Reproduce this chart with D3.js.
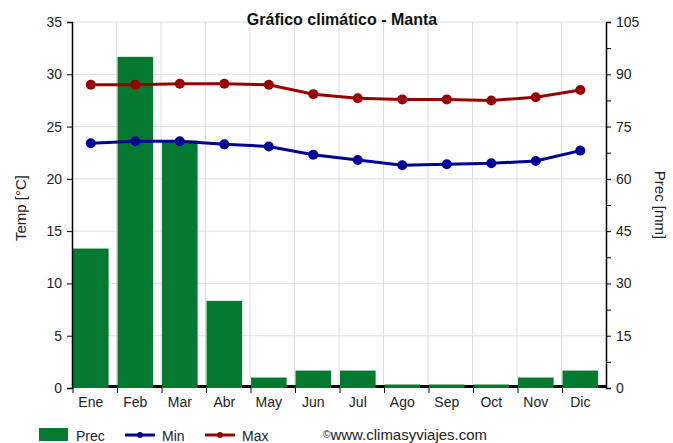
<!DOCTYPE html>
<html>
<head>
<meta charset="utf-8">
<script src="https://cdn.jsdelivr.net/npm/d3@7"></script>
<style>
  body { margin: 0; background: #fff; }
  text { font-family: "Liberation Sans", Arial, sans-serif; }
</style>
</head>
<body>
<div id="chart"></div>
<script>
// data
var months = ["Ene","Feb","Mar","Abr","May","Jun","Jul","Ago","Sep","Oct","Nov","Dic"];
var prec = [40, 95, 71, 25, 3, 5, 5, 1, 1, 1, 3, 5];
var tMin = [23.4, 23.6, 23.6, 23.3, 23.1, 22.3, 21.8, 21.3, 21.4, 21.5, 21.7, 22.7];
var tMax = [29.0, 29.0, 29.1, 29.1, 29.0, 28.1, 27.7, 27.6, 27.6, 27.5, 27.8, 28.5];
var tempTicks = [0, 5, 10, 15, 20, 25, 30, 35];

var W = 673, H = 443;
var pLeft = 72, pRight = 606, pTop = 22, pBottom = 388;

var svg = d3.select("#chart").append("svg")
  .attr("width", W).attr("height", H);

var x = d3.scaleBand().domain(months).range([pLeft, pRight]).padding(0);
var y = d3.scaleLinear().domain([0, 35]).range([pBottom, pTop]);
var yP = d3.scaleLinear().domain([0, 105]).range([pBottom, pTop]);
var barW = x.bandwidth() * 0.8;
var cx = function(m){ return x(m) + barW / 2 + 1; };

// grid
svg.append("g").selectAll("line")
  .data(tempTicks.slice(1))
  .enter().append("line")
    .attr("x1", pLeft).attr("x2", pRight)
    .attr("y1", function(d){ return y(d); })
    .attr("y2", function(d){ return y(d); })
    .attr("stroke", "#dddddd");
svg.append("g").selectAll("line")
  .data(months.slice(1))
  .enter().append("line")
    .attr("x1", function(d){ return x(d); })
    .attr("x2", function(d){ return x(d); })
    .attr("y1", pTop).attr("y2", pBottom)
    .attr("stroke", "#dddddd");

// black base strip
svg.append("rect")
  .attr("x", pLeft).attr("y", pBottom - 3)
  .attr("width", pRight - pLeft).attr("height", 3)
  .attr("fill", "#000");

// bars
svg.append("g").selectAll("rect")
  .data(prec)
  .enter().append("rect")
    .attr("x", function(d, i){ return x(months[i]) + 1; })
    .attr("y", function(d){ return yP(d); })
    .attr("width", barW)
    .attr("height", function(d){ return pBottom - yP(d); })
    .attr("fill", "#037a2f");

// lines
function drawLine(vals, color) {
  var line = d3.line()
    .x(function(d, i){ return cx(months[i]); })
    .y(function(d){ return y(d); });
  svg.append("path")
    .datum(vals)
    .attr("d", line)
    .attr("fill", "none")
    .attr("stroke", color)
    .attr("stroke-width", 3);
  svg.append("g").selectAll("circle")
    .data(vals)
    .enter().append("circle")
      .attr("cx", function(d, i){ return cx(months[i]); })
      .attr("cy", function(d){ return y(d); })
      .attr("r", 5)
      .attr("fill", color);
}
drawLine(tMax, "#990000");
drawLine(tMin, "#000099");

// axes
var axL = svg.append("g")
  .attr("transform", "translate(" + pLeft + ",0)")
  .call(d3.axisLeft(y).tickValues(tempTicks).tickSize(5).tickPadding(5));
var axR = svg.append("g")
  .attr("transform", "translate(" + pRight + ",0)")
  .call(d3.axisRight(yP).tickValues(d3.range(0, 106, 7.5)).tickSize(5).tickPadding(5)
    .tickFormat(function(d){ return d % 15 === 0 ? d : ""; }));
var axB = svg.append("g")
  .attr("transform", "translate(0," + pBottom + ")")
  .call(d3.axisBottom(x).tickSize(0).tickPadding(9));
// bottom tick marks at band edges
svg.append("g").selectAll("line")
  .data(months)
  .enter().append("line")
    .attr("x1", function(d){ return x(d) + 1; })
    .attr("x2", function(d){ return x(d) + 1; })
    .attr("y1", pBottom).attr("y2", pBottom + 5)
    .attr("stroke", "#000");
// shift month labels to bar centres
axB.selectAll(".tick").attr("transform", function(d){ return "translate(" + cx(d) + ",0)"; });

[axL, axR, axB].forEach(function(a){
  a.selectAll("text").attr("font-size", 14).attr("fill", "#222")
    .attr("font-family", "'Liberation Sans', Arial, sans-serif");
  a.selectAll("line").attr("stroke", "#000");
});
axB.select(".domain").remove();
axL.select(".domain").attr("stroke", "#000").attr("stroke-width", 1.5);
axR.select(".domain").attr("stroke", "#000").attr("stroke-width", 1.5);

// title and axis labels
svg.append("text")
  .attr("x", 342).attr("y", 25)
  .attr("text-anchor", "middle")
  .attr("font-size", 16).attr("font-weight", "bold").attr("fill", "#111")
  .text("Gráfico climático - Manta");
svg.append("text")
  .attr("transform", "translate(26,208) rotate(-90)")
  .attr("text-anchor", "middle").attr("font-size", 15).attr("fill", "#222")
  .text("Temp [°C]");
svg.append("text")
  .attr("transform", "translate(655,205) rotate(90)")
  .attr("text-anchor", "middle").attr("font-size", 15).attr("fill", "#222")
  .text("Prec [mm]");

// legend
var lg = svg.append("g").attr("font-size", 14).attr("fill", "#222");
lg.append("rect").attr("x", 39).attr("y", 428).attr("width", 29).attr("height", 13).attr("fill", "#037a2f");
lg.append("text").attr("x", 76).attr("y", 441).text("Prec");
[["Min", "#000099", 125], ["Max", "#990000", 205]].forEach(function(s){
  lg.append("line").attr("x1", s[2]).attr("x2", s[2] + 30)
    .attr("y1", 435).attr("y2", 435).attr("stroke", s[1]).attr("stroke-width", 3);
  lg.append("circle").attr("cx", s[2] + 15).attr("cy", 435).attr("r", 3).attr("fill", s[1]);
  lg.append("text").attr("x", s[2] + 37).attr("y", 441).text(s[0]);
});
var cr = lg.append("text").attr("x", 323).attr("y", 440).attr("font-size", 15);
cr.append("tspan").attr("font-size", 10).attr("dy", -2).text("©");
cr.append("tspan").attr("dy", 2).text("www.climasyviajes.com");
</script>
</body>
</html>
